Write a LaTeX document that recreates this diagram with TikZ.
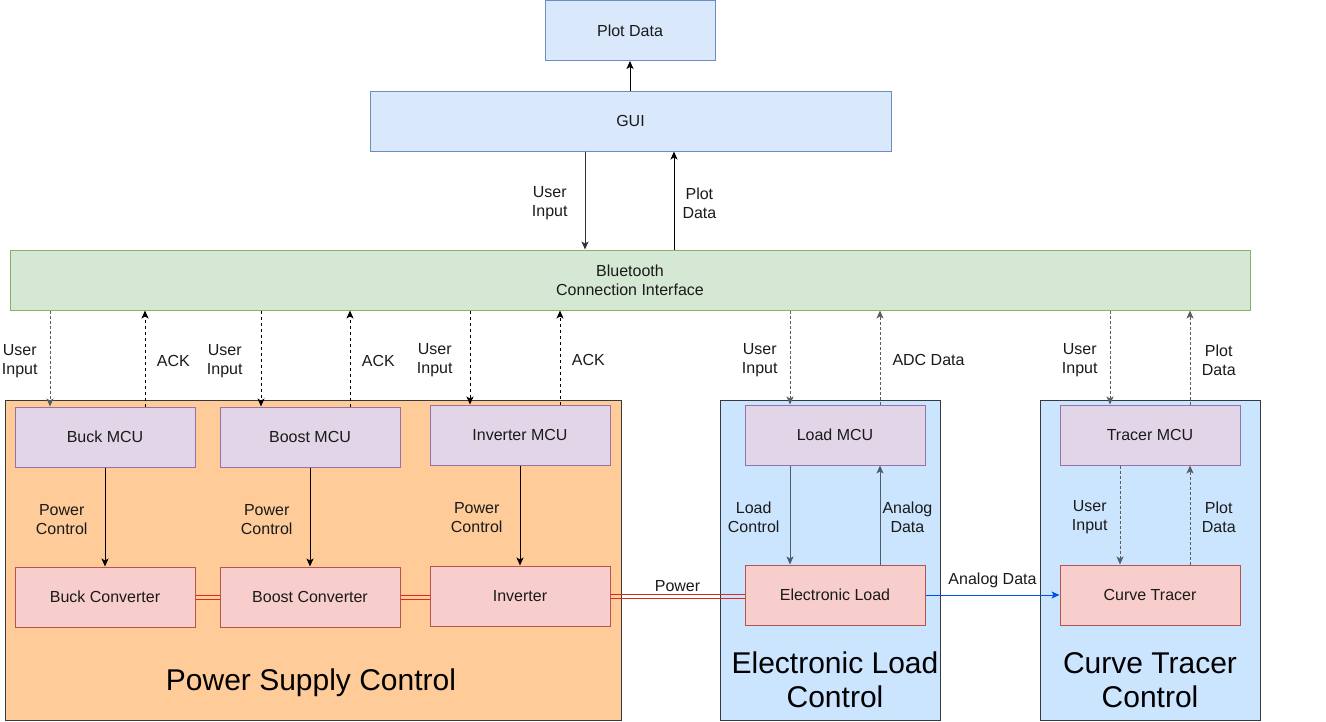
\documentclass[tikz,border=0pt]{standalone}
\usepackage{fontspec}
\setmainfont{Liberation Sans}
\usetikzlibrary{positioning,arrows.meta}

\definecolor{bluefill}{HTML}{DAE8FC}
\definecolor{blueline}{HTML}{6C8EBF}
\definecolor{greenfill}{HTML}{D5E8D4}
\definecolor{greenline}{HTML}{82B366}
\definecolor{purplefill}{HTML}{E1D5E7}
\definecolor{purpleline}{HTML}{9673A6}
\definecolor{redfill}{HTML}{F8CECC}
\definecolor{redline}{HTML}{B85450}
\definecolor{orangefill}{HTML}{FFCC99}
\definecolor{groupblue}{HTML}{CCE5FF}
\definecolor{groupline}{HTML}{36393D}
\definecolor{linkred}{HTML}{D9281C}
\definecolor{sigblue}{HTML}{0050EF}
\definecolor{slate}{HTML}{4D5B6B}
\definecolor{dotgray}{HTML}{5C5C5C}
\definecolor{boxtext}{HTML}{1A1A1A}

\begin{document}
\begin{tikzpicture}[x=0.75pt, y=-0.75pt,
    every node/.style={font=\fontsize{12pt}{14.4pt}\selectfont},
    box/.style={draw, line width=0.75pt, minimum width=135pt, minimum height=45pt, align=center, text=boxtext},
    mcu/.style={box, fill=purplefill, draw=purpleline},
    conv/.style={box, fill=redfill, draw=redline},
    group/.style={draw=groupline, line width=0.75pt, minimum width=165pt, minimum height=240pt},
    title/.style={font=\fontsize{22.5pt}{25.5pt}\selectfont, align=center},
    lbl/.style={inner sep=0pt, align=center, text=boxtext, yshift=-1.8pt},
    arr/.style={-{Stealth[length=6pt,width=5.25pt,inset=1.5pt]}, line width=0.75pt},
    ack/.style={arr, dash pattern=on 2.25pt off 2.25pt},
    dots/.style={arr, draw=dotgray, dash pattern=on 2.25pt off 1.5pt},
    pwr/.style={draw=linkred, line width=0.75pt}]
    \useasboundingbox (0,0) rectangle (1326,721);

    % groups
    \node[group, fill=orangefill, minimum width=462pt] (psc) at (313,560) {};
    \node[group, fill=groupblue] (elc) at (830,560) {};
    \node[group, fill=groupblue] (ctc) at (1150,560) {};
    \node[title] (psctitle) at (311,683) {Power Supply Control};
    \node[title] (elctitle) at (835,680) {Electronic Load\\Control};
    \node[title] (ctctitle) at (1150,680) {Curve Tracer\\Control};

    % top
    \node[box, fill=bluefill, draw=blueline, minimum width=127.5pt] (plot) at (630,30.5) {Plot Data};
    \node[box, fill=bluefill, draw=blueline, minimum width=390.75pt] (gui) at (630.5,121) {GUI};
    \node[box, fill=greenfill, draw=greenline, minimum width=930pt] (bt) at (630,280) {Bluetooth\\Connection Interface};

    % blocks
    \node[mcu] (buckmcu) at (105,437) {Buck MCU};
    \node[mcu] (boostmcu) at (310,437) {Boost MCU};
    \node[mcu] (invmcu) at (520,435) {Inverter MCU};
    \node[mcu] (loadmcu) at (835,435) {Load MCU};
    \node[mcu] (tracermcu) at (1150,435) {Tracer MCU};
    \node[conv] (buckconv) at (105,597) {Buck Converter};
    \node[conv] (boostconv) at (310,597) {Boost Converter};
    \node[conv] (inv) at (520,596) {Inverter};
    \node[conv] (eload) at (835,595) {Electronic Load};
    \node[conv] (ctracer) at (1150,595) {Curve Tracer};

    \draw[arr] (gui.north -| plot.south) -- (plot.south);
    \draw[arr, draw=black!80] (gui.south -| 585,0) -- node[lbl, midway, left=12.75pt] {User\\Input} (bt.north -| 585,0);
    \draw[arr] (bt.north -| 674,0) -- node[lbl, midway, right=6pt] {Plot\\Data} (gui.south -| 674,0);

    \draw[dots] (bt.south -| 50,0) -- node[lbl, midway, left=9pt] {User\\Input} (buckmcu.north -| 50,0);
    \draw[ack] (buckmcu.north -| 145,0) -- node[lbl, midway, right=8.5pt] {ACK} (bt.south -| 145,0);
    \draw[ack] (bt.south -| 261,0) -- node[lbl, midway, left=13.5pt] {User\\Input} (boostmcu.north -| 261,0);
    \draw[ack] (boostmcu.north -| 350,0) -- node[lbl, midway, right=8.5pt] {ACK} (bt.south -| 350,0);
    \draw[ack] (bt.south -| 470,0) -- node[lbl, midway, left=12.75pt] {User\\Input} (invmcu.north -| 470,0);
    \draw[ack] (invmcu.north -| 560,0) -- node[lbl, midway, right=8.5pt] {ACK} (bt.south -| 560,0);
    \draw[dots] (bt.south -| 790,0) -- node[lbl, midway, left=9pt] {User\\Input} (loadmcu.north -| 790,0);
    \draw[dots] (loadmcu.north -| 880,0) -- node[lbl, midway, right=9pt] {ADC Data} (bt.south -| 880,0);
    \draw[dots] (bt.south -| 1110,0) -- node[lbl, midway, left=9pt] {User\\Input} (tracermcu.north -| 1110,0);
    \draw[dots] (tracermcu.north -| 1190,0) -- node[lbl, midway, right=8.5pt] {Plot\\Data} (bt.south -| 1190,0);

    \draw[arr] (buckmcu) -- node[lbl, midway, left=12.75pt] {Power\\Control} (buckconv);
    \draw[arr] (boostmcu) -- node[lbl, midway, left=12.75pt] {Power\\Control} (boostconv);
    \draw[arr] (invmcu) -- node[lbl, midway, left=12.75pt] {Power\\Control} (inv);
    \draw[arr, draw=slate] (loadmcu.south -| 790,0) -- node[lbl, midway, left=7.5pt] {Load\\Control} (eload.north -| 790,0);
    \draw[arr, draw=slate] (eload.north -| 880,0) -- node[lbl, midway, right=1.5pt] {Analog\\Data} (loadmcu.south -| 880,0);
    \draw[dots] (tracermcu.south -| 1120,0) -- node[lbl, midway, left=9pt] {User\\Input} (ctracer.north -| 1120,0);
    \draw[dots] (ctracer.north -| 1190,0) -- node[lbl, midway, right=8.5pt] {Plot\\Data} (tracermcu.south -| 1190,0);

    % power links
    \draw[pwr] ([yshift=1.5pt]buckconv.east) -- ([yshift=1.5pt]boostconv.west);
    \draw[pwr] ([yshift=-1.5pt]buckconv.east) -- ([yshift=-1.5pt]boostconv.west);
    \draw[pwr] ([yshift=1.5pt]boostconv.east) -- ([yshift=1.5pt]inv.west |- boostconv.east);
    \draw[pwr] ([yshift=-1.5pt]boostconv.east) -- ([yshift=-1.5pt]inv.west |- boostconv.east);
    \draw[pwr] ([yshift=1.5pt]inv.east) -- node[lbl, midway, above=3.5pt] {Power} ([yshift=1.5pt]eload.west |- inv.east);
    \draw[pwr] ([yshift=-1.5pt]inv.east) -- ([yshift=-1.5pt]eload.west |- inv.east);
    \draw[arr, draw=sigblue] (eload) -- node[lbl, midway, above=6.5pt] {Analog Data} (ctracer);
\end{tikzpicture}
\end{document}
